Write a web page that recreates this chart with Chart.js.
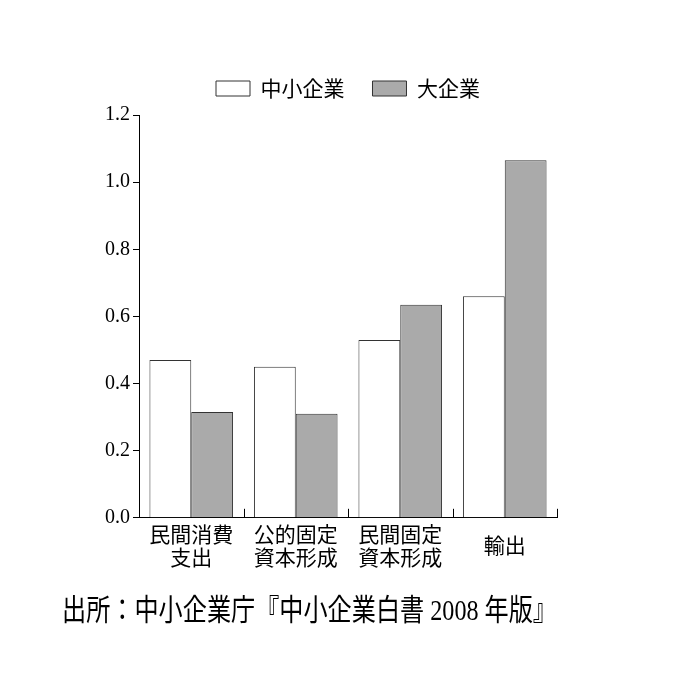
<!DOCTYPE html>
<html>
<head>
<meta charset="utf-8">
<script src="https://cdn.jsdelivr.net/npm/chart.js@4/dist/chart.umd.min.js"></script>
<style>
  html, body { margin: 0; padding: 0; background: #fff; }
  #wrap { width: 700px; height: 700px; }
</style>
</head>
<body>
<div id="wrap"><canvas id="myChart" width="700" height="700"></canvas></div>
<script>
const categories = [['民間消費', '支出'], ['公的固定', '資本形成'], ['民間固定', '資本形成'], '輸出'];
const smeValues = [0.47, 0.45, 0.53, 0.66];
const largeValues = [0.315, 0.31, 0.635, 1.065];
const seriesNames = ['中小企業', '大企業'];
const yTicks = [0, 0.2, 0.4, 0.6, 0.8, 1.0, 1.2];

const jpFont = '"Noto Sans CJK JP", sans-serif';
const numFont = '"Liberation Serif", "DejaVu Serif", serif';
const mixFont = '"Liberation Serif", "Noto Sans CJK JP", serif';

const layoutTweaks = {
  id: 'layoutTweaks',
  beforeLayout(chart) {
    // a bit more room between legend and plot
    const lg = chart.legend;
    if (lg && !lg._patched) {
      const fit = lg.fit;
      lg.fit = function () { fit.call(this); this.height += 6; };
      lg._patched = true;
    }
  },
  afterLayout(chart) {
    // center the legend over the plot area
    if (chart.legend) {
      chart.legend.left = chart.chartArea.left;
      chart.legend.right = chart.chartArea.right;
    }
  },
  afterDraw(chart) {
    // small upward ticks between the categories on the x axis
    const x = chart.scales.x;
    const ctx = chart.ctx;
    const half = (x.getPixelForTick(1) - x.getPixelForTick(0)) / 2;
    ctx.save();
    ctx.strokeStyle = '#000';
    ctx.lineWidth = 1;
    ctx.beginPath();
    for (let i = 0; i < categories.length; i++) {
      const px = Math.round(x.getPixelForTick(i) + half) + 0.5;
      ctx.moveTo(px, x.top);
      ctx.lineTo(px, x.top - 9);
    }
    ctx.stroke();
    ctx.restore();
  }
};

const ctx = document.getElementById('myChart').getContext('2d');
const myChart = new Chart(ctx, {
  type: 'bar',
  data: {
    labels: categories,
    datasets: [{
      label: seriesNames[0],
      data: smeValues,
      backgroundColor: '#ffffff',
      borderColor: '#333333',
      borderWidth: 1
    }, {
      label: seriesNames[1],
      data: largeValues,
      backgroundColor: '#aaaaaa',
      borderColor: '#333333',
      borderWidth: 1
    }]
  },
  options: {
    responsive: false,
    animation: false,
    layout: { padding: { top: 50, left: 62, right: 143, bottom: 70 } },
    datasets: {
      bar: { categoryPercentage: 0.8, barPercentage: 1.0 }
    },
    scales: {
      x: {
        grid: { display: false },
        border: { color: '#000', width: 1 },
        ticks: {
          color: '#000',
          font: { family: jpFont, size: 21, lineHeight: 1.1 },
          padding: 8,
          crossAlign: 'center',
          maxRotation: 0,
          autoSkip: false
        }
      },
      y: {
        min: 0,
        max: 1.2,
        afterBuildTicks(axis) {
          axis.ticks = yTicks.map(v => ({ value: v }));
        },
        afterFit(axis) { axis.width = 77; },
        grid: {
          drawOnChartArea: false,
          drawTicks: true,
          tickLength: 6,
          color: '#000'
        },
        border: { color: '#000', width: 1 },
        ticks: {
          color: '#000',
          font: { family: numFont, size: 20 },
          padding: 3,
          callback: v => Number(v).toFixed(1)
        }
      }
    },
    plugins: {
      legend: {
        position: 'top',
        labels: {
          color: '#000',
          font: { family: jpFont, size: 21 },
          boxWidth: 34,
          boxHeight: 15,
          padding: 28
        }
      },
      title: {
        display: true,
        position: 'bottom',
        align: 'start',
        text: '出所：中小企業庁『中小企業白書 2008 年版』',
        color: '#000',
        font: { family: mixFont, size: 30, weight: 'normal' },
        padding: { top: 6, bottom: 0 }
      },
      tooltip: { enabled: false }
    }
  },
  plugins: [layoutTweaks]
});
</script>
</body>
</html>
